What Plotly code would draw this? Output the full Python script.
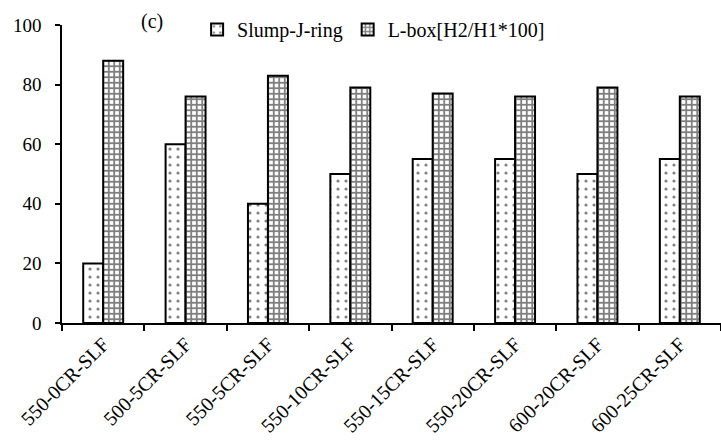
import plotly.graph_objects as go

categories = ["550-0CR-SLF", "500-5CR-SLF", "550-5CR-SLF", "550-10CR-SLF",
              "550-15CR-SLF", "550-20CR-SLF", "600-20CR-SLF", "600-25CR-SLF"]
slump_jring = [20, 60, 40, 50, 55, 55, 50, 55]
lbox = [88, 76, 83, 79, 77, 76, 79, 76]
y_ticks = [0, 20, 40, 60, 80, 100]

FONT = "Liberation Serif"

fig = go.Figure()
fig.add_trace(go.Bar(
    x=categories, y=slump_jring, name="Slump-J-ring",
    marker=dict(color="white", line=dict(color="black", width=2),
                pattern=dict(shape=".", fgcolor="black", bgcolor="white",
                             size=8, solidity=0.12)),
))
fig.add_trace(go.Bar(
    x=categories, y=lbox, name="L-box[H2/H1*100]",
    marker=dict(color="white", line=dict(color="black", width=2),
                pattern=dict(shape="+", fgcolor="black", bgcolor="white",
                             size=5.5, solidity=0.55)),
))

fig.update_layout(
    width=721, height=446,
    margin=dict(l=62, r=0, t=25, b=123),
    plot_bgcolor="white", paper_bgcolor="white",
    font=dict(family=FONT, size=20, color="black"),
    barmode="group", bargap=0.515, bargroupgap=0,
    showlegend=True,
    legend=dict(orientation="h", x=0.205, y=0.985, xanchor="left", yanchor="middle",
                font=dict(family=FONT, size=20), bgcolor="rgba(0,0,0,0)",
                itemwidth=30, tracegroupgap=0),
    annotations=[dict(text="(c)", x=0.137, y=1.013, xref="paper", yref="paper",
                      showarrow=False, xanchor="center", yanchor="middle",
                      font=dict(family=FONT, size=20))],
)
fig.update_xaxes(
    type="category", tickson="boundaries", ticks="outside", ticklen=6,
    tickwidth=1.5, tickcolor="black", showline=True, linecolor="black", linewidth=1.5,
    tickangle=-45, showgrid=False, tickfont=dict(family=FONT, size=20),
)
fig.update_yaxes(
    range=[0, 100], tickvals=y_ticks, ticks="outside", ticklen=5, tickwidth=1.5,
    tickcolor="black", showline=True, linecolor="black", linewidth=1.5,
    showgrid=False, zeroline=False, tickfont=dict(family=FONT, size=19),
    ticklabelstandoff=10,
)

fig.write_html("out.html")
